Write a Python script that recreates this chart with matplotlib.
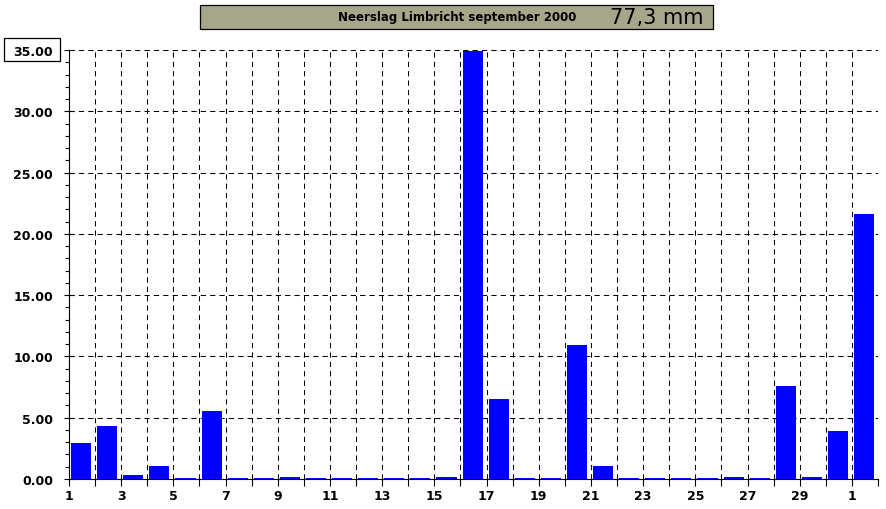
import matplotlib
matplotlib.use("Agg")
import matplotlib.pyplot as plt
from matplotlib.patches import Rectangle
from matplotlib.ticker import MultipleLocator, FixedLocator

# Data
days = list(range(1, 32))
rain = [2.95, 4.35, 0.3, 1.1, 0.1, 5.55, 0.1, 0.1, 0.2, 0.1,
        0.1, 0.1, 0.1, 0.1, 0.2, 34.9, 6.5, 0.1, 0.1, 10.9,
        1.1, 0.1, 0.1, 0.1, 0.1, 0.2, 0.1, 7.6, 0.2, 3.9,
        21.6]
tick_positions = list(range(1, 33))
tick_labels = ["1", "", "3", "", "5", "", "7", "", "9", "", "11", "", "13", "", "15", "",
               "17", "", "19", "", "21", "", "23", "", "25", "", "27", "", "29", "", "1", ""]
title_text = "Neerslag Limbricht september 2000"
total_text = "77,3 mm"

W, H = 887, 510
fig = plt.figure(figsize=(W / 100, H / 100), dpi=100)
fig.patch.set_facecolor("white")

ax = fig.add_axes([69 / W, (H - 480) / H, (878 - 69) / W, (480 - 51) / H])
ax.bar([d + 0.08 for d in days], rain, width=0.77, align="edge", color="#0000FF", zorder=3)

ax.set_xlim(1, 32)
ax.set_ylim(0, 35)

ax.xaxis.set_major_locator(FixedLocator(tick_positions))
ax.set_xticklabels(tick_labels)
ax.yaxis.set_major_locator(MultipleLocator(5))
ax.yaxis.set_minor_locator(MultipleLocator(1))
ax.yaxis.set_major_formatter(matplotlib.ticker.FormatStrFormatter("%.2f"))

for lbl in ax.get_xticklabels() + ax.get_yticklabels():
    lbl.set_fontweight("bold")
    lbl.set_fontsize(9)
    lbl.set_fontfamily("DejaVu Sans")

ax.tick_params(axis="x", direction="out", length=5, width=0.8, pad=2, color="black")
ax.tick_params(axis="y", which="major", direction="inout", length=7, width=0.8, pad=8)
ax.tick_params(axis="y", which="minor", direction="out", length=3, width=0.8)

ax.grid(True, which="major", axis="both", color="black", linestyle=(0, (5, 4)), linewidth=0.75)
ax.set_axisbelow(True)

for s in ["top", "right"]:
    ax.spines[s].set_visible(False)
for s in ["left", "bottom"]:
    ax.spines[s].set_linewidth(0.8)
    ax.spines[s].set_color("black")

# Box around 35.00 label
fig.patches.append(Rectangle((4 / W, (H - 62) / H), 56 / W, 23 / H, transform=fig.transFigure,
                             facecolor="none", edgecolor="black", linewidth=0.9))

# Title box
fig.patches.append(Rectangle((200 / W, (H - 30) / H), 513 / W, 24 / H, transform=fig.transFigure,
                             facecolor="#A6A68A", edgecolor="black", linewidth=0.9, zorder=0))
fig.text(457 / W, (H - 17) / H, title_text, ha="center", va="center", fontsize=8.5,
         fontweight="bold", color="black")
fig.text(657 / W, (H - 18) / H, total_text, ha="center", va="center", fontsize=15,
         color="black")

fig.savefig("out.png", dpi=100)
